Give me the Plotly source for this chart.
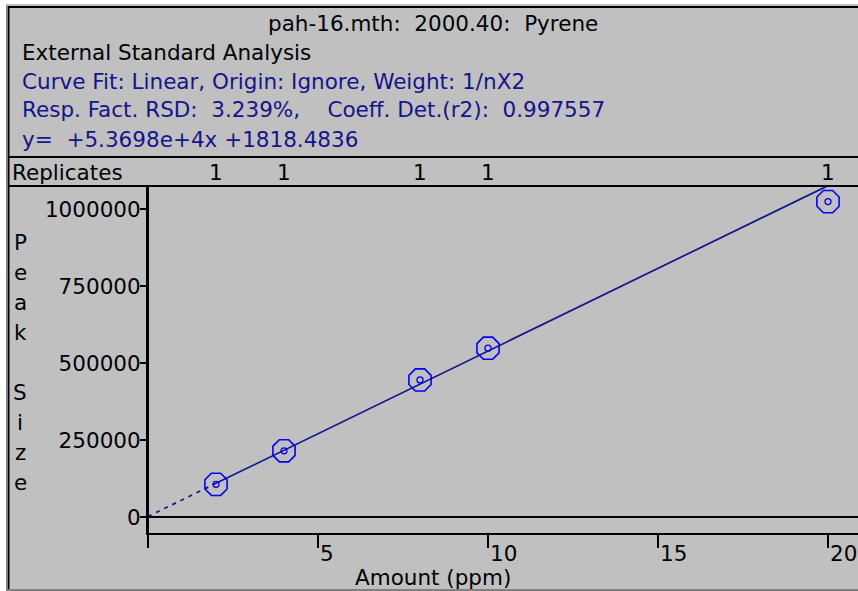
import plotly.graph_objects as go

# ---- calibration data -------------------------------------------------
amount = [2, 4, 8, 10, 20]                         # ppm
peak_size = [106000, 215000, 445000, 548000, 1024000]
replicates = [1, 1, 1, 1, 1]

slope = 5.3698e4
intercept = 1818.4836

title_line = "pah-16.mth:  2000.40:  Pyrene"
info_lines = [
    "External Standard Analysis",
    "Curve Fit: Linear, Origin: Ignore, Weight: 1/nX2",
    "Resp. Fact. RSD:  3.239%,    Coeff. Det.(r2):  0.997557",
    "y=  +5.3698e+4x +1818.4836",
]
y_ticks = [0, 250000, 500000, 750000, 1000000]
x_ticks = [0, 5, 10, 15, 20]
x_ticktext = ["", "5", "10", "15", "20"]

# ---- layout geometry (pixels) ----------------------------------------
W, H = 858, 591
PL, PR, PT, PB = 148, 858, 186, 533      # plot-area edges
PX_PER_X = 34.0
PX_PER_Y = 308.0 / 1e6
Y0_PX = 517

FONT = "DejaVu Sans"
FS = 21.5
GRAY = "#C0C0C0"
NAVY = "#14148c"


def nb(s):
    return s.replace(" ", "\u00a0")


def px(x):
    return (x - PL) / (PR - PL)


def py(y):
    return (PB - y) / (PB - PT)


fig = go.Figure()

# fitted line: dashed extrapolation below the lowest standard, solid across the standards
x_lo = [0, min(amount)]
x_hi = [min(amount), max(amount)]
fig.add_trace(go.Scatter(
    x=x_lo, y=[slope * v + intercept for v in x_lo], mode="lines",
    line=dict(color=NAVY, width=1.7, dash="4px,5px"), hoverinfo="skip", showlegend=False))
fig.add_trace(go.Scatter(
    x=x_hi, y=[slope * v + intercept for v in x_hi], mode="lines",
    line=dict(color=NAVY, width=1.7), hoverinfo="skip", showlegend=False))

# calibration points
fig.add_trace(go.Scatter(
    x=amount, y=peak_size, mode="markers",
    marker=dict(symbol="octagon-open", size=24, color="#0000ff", line=dict(width=1.6, color="#0000ff")),
    showlegend=False, cliponaxis=False))
fig.add_trace(go.Scatter(
    x=amount, y=peak_size, mode="markers",
    marker=dict(symbol="circle-open", size=6, color="#0000ff", line=dict(width=1.3, color="#0000ff")),
    showlegend=False, cliponaxis=False))

shapes = []
# gray window body
shapes.append(dict(type="rect", xref="paper", yref="paper", x0=px(8), x1=px(W + 2), y0=py(H + 2), y1=py(6),
                   fillcolor=GRAY, line=dict(width=0), layer="below"))


def hline(y, x0, x1, color="black", w=2):
    shapes.append(dict(type="line", xref="paper", yref="paper", x0=px(x0), x1=px(x1), y0=py(y), y1=py(y),
                       line=dict(color=color, width=w)))


def vline(x, y0, y1, color="black", w=2):
    shapes.append(dict(type="line", xref="paper", yref="paper", x0=px(x), x1=px(x), y0=py(y0), y1=py(y1),
                       line=dict(color=color, width=w)))


# window frame
hline(5, 6, W + 2, "#808080", 1)
vline(6.5, 5, H, "#808080", 1)
hline(7, 8, W + 2)
vline(8.5, 6, H)
hline(590, 8, W + 2, "#808080", 2)
# header / replicate row separators
hline(157, 8, W + 2)
hline(186, 8, W + 2)
vline(148, 186, 533)

annotations = []


def text(s, x, y, color="black", xanchor="left", size=FS):
    annotations.append(dict(text=nb(s), x=px(x), y=py(y), xref="paper", yref="paper",
                            xanchor=xanchor, yanchor="middle", showarrow=False,
                            font=dict(family=FONT, size=size, color=color)))


text(title_line, 433, 23, "black", "center")
text(info_lines[0], 20, 52, "black")
for i, line in enumerate(info_lines[1:]):
    text(line, 20, 81 + 29 * i, NAVY)

text("Replicates", 10, 172, "black")
for a, r in zip(amount, replicates):
    annotations.append(dict(text=str(r), x=a, xref="x", y=py(172), yref="paper",
                            xanchor="center", yanchor="middle", showarrow=False,
                            font=dict(family=FONT, size=FS, color="black")))

# vertical y-axis title
for i, ch in enumerate("Peak Size"):
    if ch != " ":
        text(ch, 20, 242 + 30 * i, "black", "center")

text("Amount (ppm)", 433, 577, "black", "center")

fig.update_layout(
    width=W, height=H,
    margin=dict(l=PL, r=W - PR, t=PT, b=H - PB, pad=0),
    paper_bgcolor="white", plot_bgcolor=GRAY,
    shapes=shapes, annotations=annotations,
    font=dict(family=FONT, size=FS, color="black"),
    xaxis=dict(range=[0, (PR - PL) / PX_PER_X], tickvals=x_ticks, ticktext=x_ticktext,
               ticks="outside", ticklen=13, tickwidth=2, tickcolor="black",
               ticklabelposition="outside right",
               showline=True, linecolor="black", linewidth=2,
               showgrid=False, zeroline=False, fixedrange=True,
               tickfont=dict(family=FONT, size=FS, color="black")),
    yaxis=dict(range=[-(PB - Y0_PX) / PX_PER_Y, (Y0_PX - PT) / PX_PER_Y],
               tickvals=y_ticks, ticktext=[str(v) for v in y_ticks],
               ticks="outside", ticklen=6, tickwidth=1.5, tickcolor="black",
               ticklabelstandoff=-5,
               showline=True, linecolor="black", linewidth=2,
               showgrid=False, zeroline=True, zerolinecolor="black", zerolinewidth=2,
               fixedrange=True,
               tickfont=dict(family=FONT, size=FS, color="black")),
)

fig.write_html("out.html")
